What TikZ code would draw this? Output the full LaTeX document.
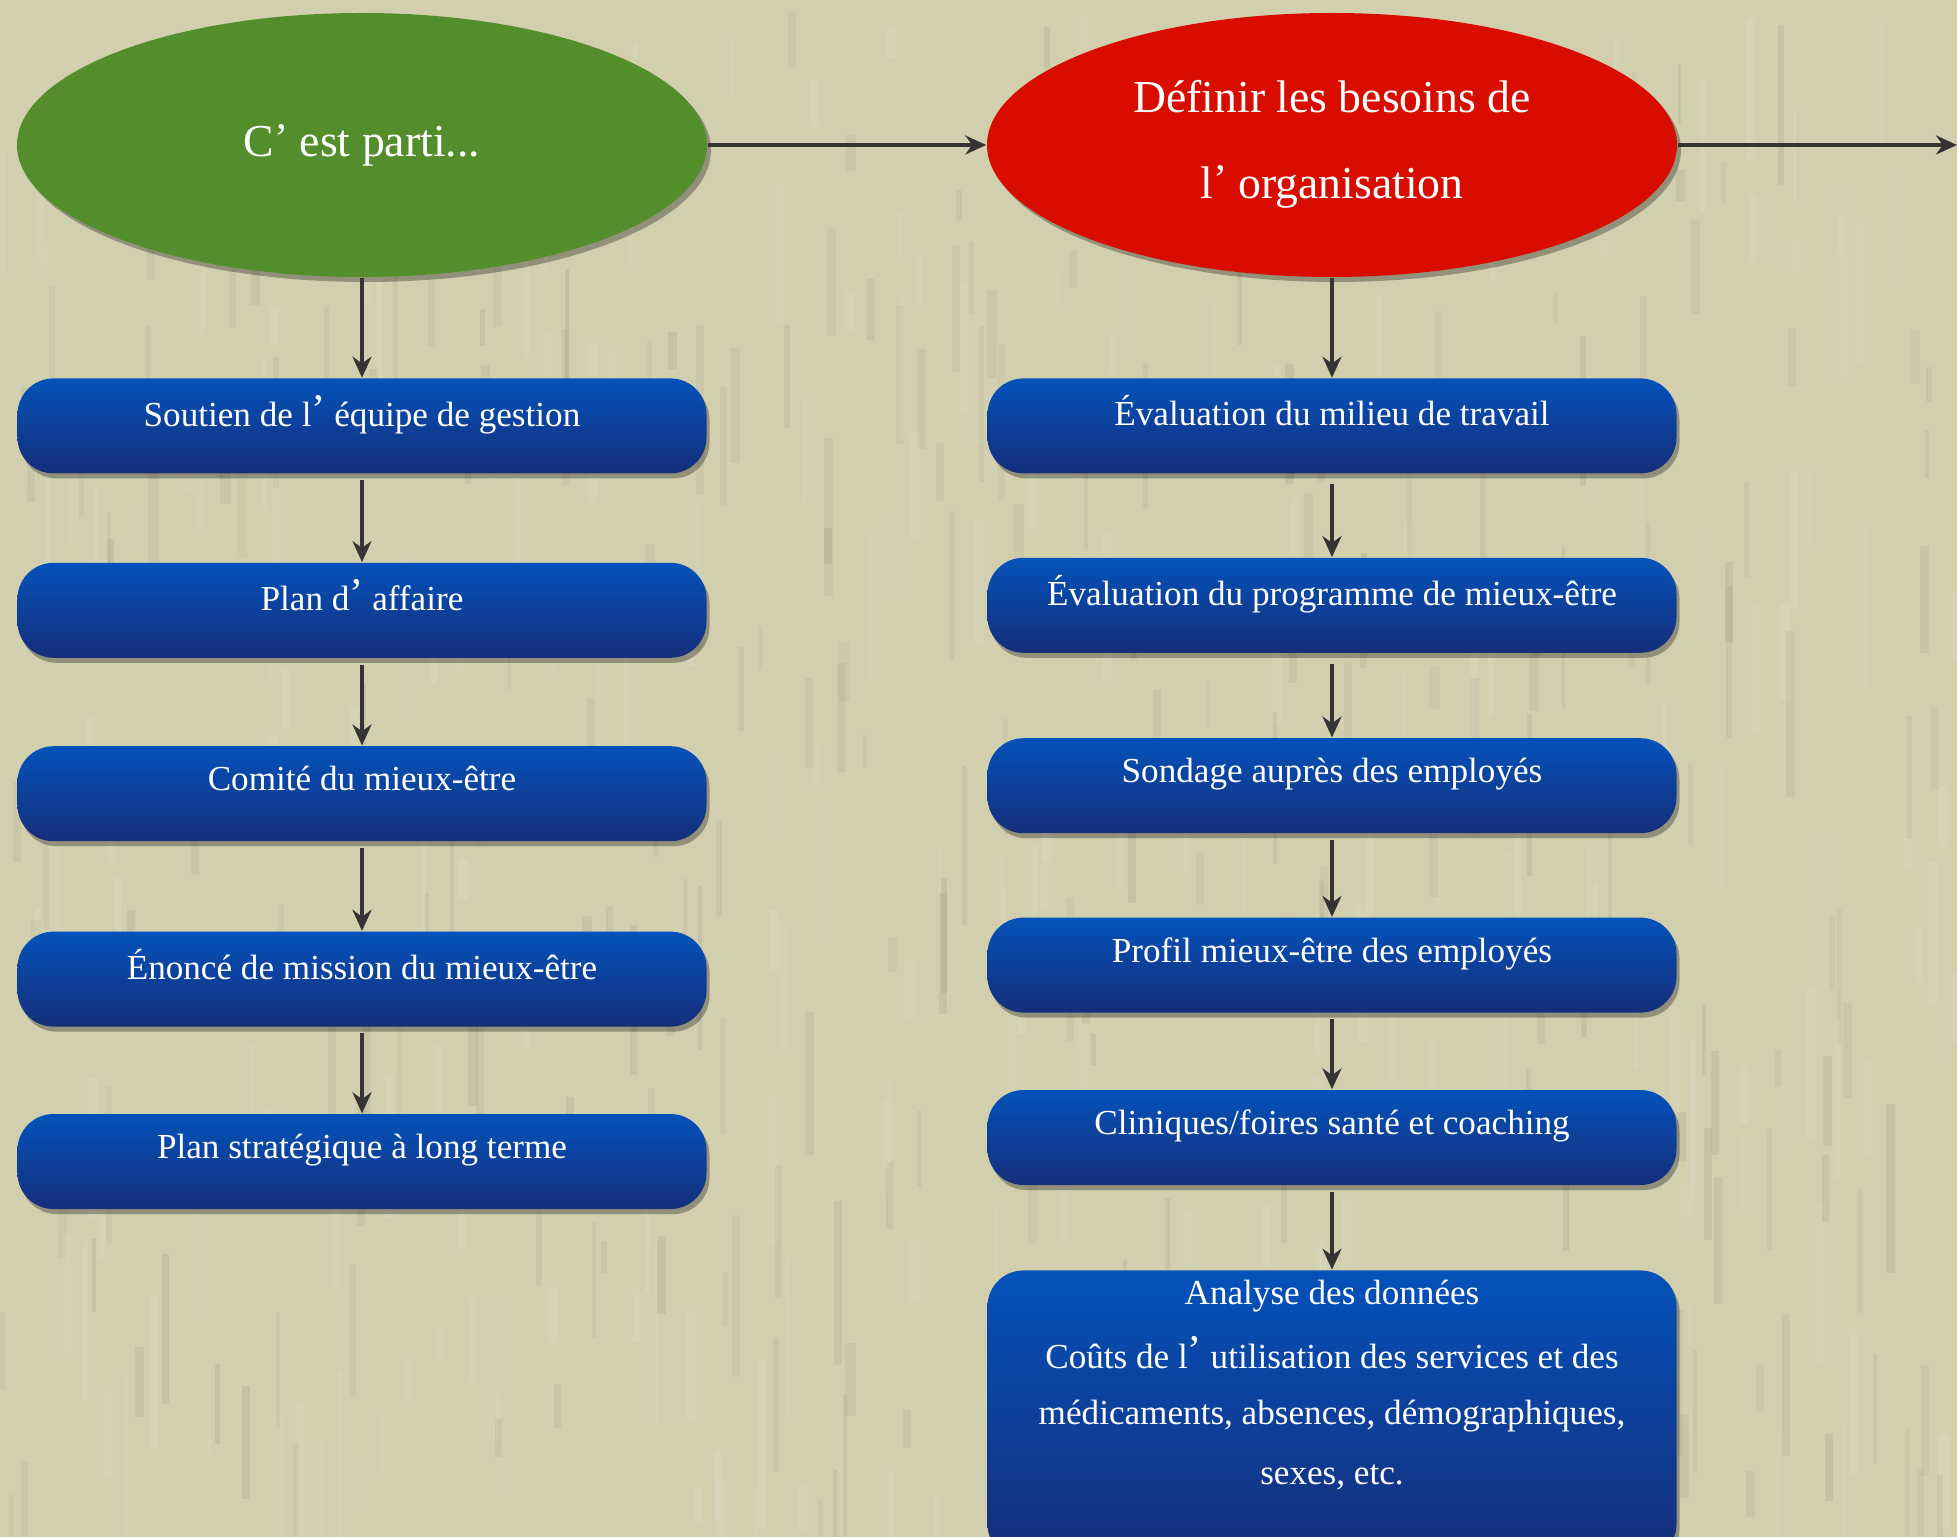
\documentclass[tikz,border=0pt]{standalone}
\usepackage{fontspec}
\setmainfont{Liberation Serif}
\usetikzlibrary{arrows.meta,positioning,shapes.geometric,shadows}

\definecolor{paper}{RGB}{209,207,174}
\definecolor{leafgreen}{RGB}{84,142,44}
\definecolor{alertred}{RGB}{217,12,0}
\definecolor{boxtop}{RGB}{4,82,186}
\definecolor{boxbot}{RGB}{22,46,122}
\definecolor{linegray}{RGB}{52,52,52}

\newcommand{\apos}{\raisebox{0.2ex}{\large\textquoteright}\ }

\begin{document}
\begin{tikzpicture}[
  oval/.style={ellipse, minimum width=6.9cm, minimum height=2.64cm, inner sep=0pt, align=center, text=white,
    font=\fontsize{13}{24.5}\selectfont, drop shadow={shadow xshift=0.04cm, shadow yshift=-0.05cm, opacity=0.3, fill=black}},
  box/.style={rounded corners=0.36cm, minimum width=6.89cm, minimum height=0.95cm, inner sep=0.1cm, align=center, text=white,
    font=\fontsize{10}{16}\selectfont, text depth=0.3cm, top color=boxtop, bottom color=boxbot,
    drop shadow={shadow xshift=0.03cm, shadow yshift=-0.05cm, opacity=0.3, fill=black}},
  arrow/.style={-{Stealth[length=2.1mm, width=1.9mm]}, line width=1.4pt, draw=linegray},
  streak/.style={line width=0.4pt}
]
\fill[paper] (0,0) rectangle (19.57,-15.37);
\useasboundingbox (0,0) rectangle (19.57,-15.37);

% paper texture
\pgfmathsetseed{11}
\foreach \k in {1,...,500}{
  \pgfmathsetmacro{\sx}{rnd*19.57}
  \pgfmathsetmacro{\sy}{-rnd*15.0}
  \pgfmathsetmacro{\sl}{0.3+rnd*1.4}
  \pgfmathsetmacro{\so}{0.04+rnd*0.06}
  \pgfmathsetmacro{\sw}{1.0+rnd*2.0}
  \ifodd\k \def\sc{black!60!paper}\else \def\sc{white}\fi
  \draw[streak, draw=\sc, opacity=\so, line width=\sw pt] (\sx,\sy) -- ++(0,-\sl);
}

\node[oval, fill=leafgreen] (start) at (3.62,-1.45) {C\apos est parti...};
\node[oval, fill=alertred, text depth=0.12cm] (needs) at (13.32,-1.45) {Définir les besoins de\\l\apos organisation};
\coordinate (exit) at (19.57,-1.45);

\node[box, below=1.0cm of start] (support) {Soutien de l\apos équipe de gestion};
\node[box, below=0.88cm of support] (plan) {Plan d\apos affaire};
\node[box, below=0.87cm of plan] (committee) {Comité du mieux-être};
\node[box, below=0.89cm of committee] (mission) {Énoncé de mission du mieux-être};
\node[box, below=0.86cm of mission] (strategy) {Plan stratégique à long terme};

\node[box, below=1.0cm of needs] (workplace) {Évaluation du milieu de travail};
\node[box, below=0.83cm of workplace] (program) {Évaluation du programme de mieux-être};
\node[box, below=0.84cm of program] (survey) {Sondage auprès des employés};
\node[box, below=0.83cm of survey] (profile) {Profil mieux-être des employés};
\node[box, below=0.76cm of profile] (clinics) {Cliniques/foires santé et coaching};
\node[box, below=0.84cm of clinics, minimum height=0pt, text depth=] (data) {Analyse des données\\[2pt]
  Coûts de l\apos utilisation des services et des\\
  médicaments, absences, démographiques,\\[1pt]
  sexes, etc.\rule[-0.66cm]{0pt}{0.66cm}};

\draw[arrow] (start) -- (needs);
\draw[arrow] (needs) -- (exit);
\draw[arrow] (start) -- (support);
\draw[arrow, shorten <=0.06cm] (support) -- (plan);
\draw[arrow, shorten <=0.06cm] (plan) -- (committee);
\draw[arrow, shorten <=0.06cm] (committee) -- (mission);
\draw[arrow, shorten <=0.06cm] (mission) -- (strategy);
\draw[arrow] (needs) -- (workplace);
\draw[arrow, shorten <=0.1cm] (workplace) -- (program);
\draw[arrow, shorten <=0.1cm] (program) -- (survey);
\draw[arrow, shorten <=0.06cm] (survey) -- (profile);
\draw[arrow, shorten <=0.06cm] (profile) -- (clinics);
\draw[arrow, shorten <=0.06cm] (clinics) -- (data);
\end{tikzpicture}
\end{document}
